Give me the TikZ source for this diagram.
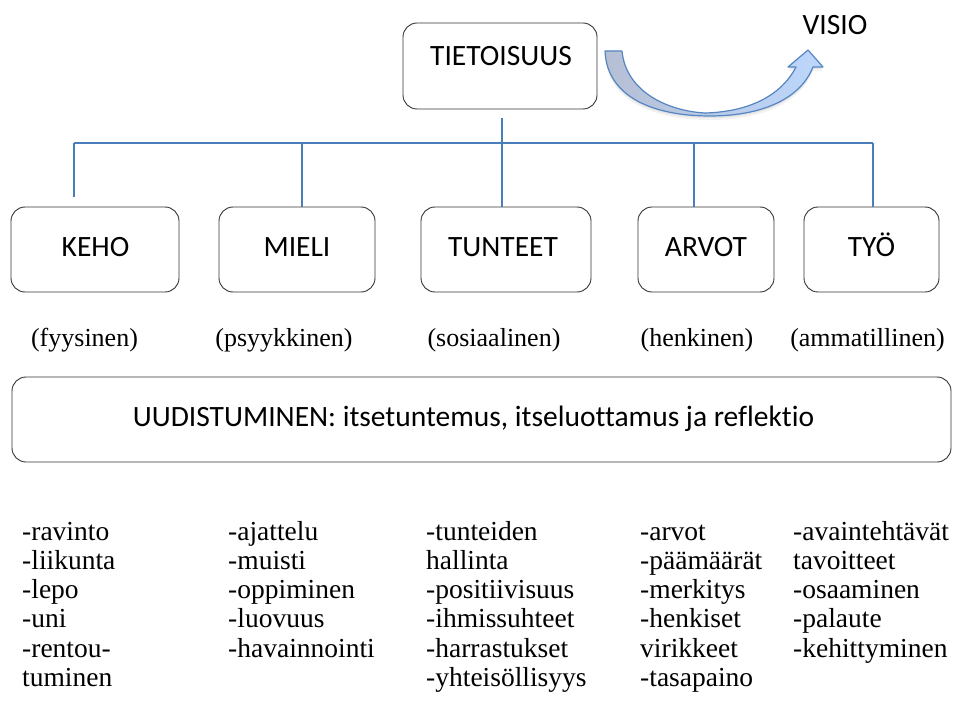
\documentclass[tikz,border=0pt]{standalone}
\usepackage{fontspec}
\setmainfont{Liberation Serif}
\newfontfamily\boxfont[Ligatures=NoCommon]{Carlito}
\definecolor{linkblue}{HTML}{4A7EBB}
\definecolor{arrowedge}{HTML}{5585C2}
\definecolor{arrowtail}{HTML}{B6BFD4}
\definecolor{arrowmid}{HTML}{B0C4E2}
\definecolor{arrowhead}{HTML}{BCD7FC}
% outline of the curved arrow from TIETOISUUS to VISIO
\newcommand\visiopath{(605,51) .. controls (607,98) and (655,116) .. (710,116)
  .. controls (760,116) and (800,100) .. (813,67)
  -- (823,67) -- (808,50) -- (788,67) -- (796,67)
  .. controls (780,98) and (745,112) .. (705,113)
  .. controls (668,111) and (626,92) .. (622,51) -- cycle}
\begin{document}
\begin{tikzpicture}[x=1pt,y=-1pt,
  box/.style={draw=black!80, line width=0.9pt, rounded corners=14pt, inner sep=0pt},
  boxtxt/.style={font=\boxfont\fontsize{29.5}{34}\selectfont, anchor=base, inner sep=0pt},
  sertxt/.style={font=\fontsize{26}{29.3}\selectfont, anchor=base, inner sep=0pt},
  listtxt/.style={font=\fontsize{27.5}{29.3}\selectfont, anchor=base west, inner sep=0pt},
  conn/.style={draw=linkblue, line width=1.6pt}]
\useasboundingbox (0,0) rectangle (979,711);

% top box and the vision arrow
\node[box, minimum width=194, minimum height=86] (tieto) at (500,66) {};
\node[boxtxt] (tietoT) at (501,66) {TIETOISUUS};
\node[boxtxt] (visio) at (835,35) {VISIO};

% soft shadow under the arrow
\fill[black, opacity=0.06, yshift=-2pt] \visiopath;
\fill[black, opacity=0.05, yshift=-4pt] \visiopath;
\path[draw=arrowedge, line width=1.2pt, line join=round,
      left color=arrowtail, middle color=arrowmid, right color=arrowhead] \visiopath;

% five area boxes
\node[box, minimum width=168, minimum height=85] (keho) at (95,249.5) {};
\node[box, minimum width=156, minimum height=85] (mieli) at (297,249.5) {};
\node[box, minimum width=170, minimum height=85] (tunteet) at (506,249.5) {};
\node[box, minimum width=136, minimum height=85] (arvot) at (706,249.5) {};
\node[box, minimum width=135, minimum height=85] (tyo) at (871.5,249.5) {};
\node[boxtxt] (kehoT) at (95.5,257) {KEHO};
\node[boxtxt] (mieliT) at (297,257) {MIELI};
\node[boxtxt] (tunteetT) at (503,257) {TUNTEET};
\node[boxtxt] (arvotT) at (706,257) {ARVOT};
\node[boxtxt] (tyoT) at (871.5,257) {TYÖ};

% connector tree
\coordinate (stem) at (502,118);
\coordinate (hL) at (74,143);
\coordinate (hR) at (873,143);
\coordinate (kehoEnd) at (74,197);
\draw[conn] (hL) -- (hR);
\draw[conn] (stem) -- (stem |- tunteet.north);
\draw[conn] (hL) -- (kehoEnd);
\draw[conn] (302,143) coordinate (mieliJ) -- (mieliJ |- mieli.north);
\draw[conn] (694,143) coordinate (arvotJ) -- (arvotJ |- arvot.north);
\draw[conn] (hR) -- (hR |- tyo.north);

% dimension labels
\node[sertxt] (l1) at (84.5,346) {(fyysinen)};
\node[sertxt] (l2) at (284,346) {(psyykkinen)};
\node[sertxt] (l3) at (494,346) {(sosiaalinen)};
\node[sertxt] (l4) at (697,346) {(henkinen)};
\node[sertxt] (l5) at (867.5,346) {(ammatillinen)};

% renewal box
\node[box, minimum width=939, minimum height=85] (uud) at (481.5,419.5) {};
\node[boxtxt] (uudT) at (473.5,426) {UUDISTUMINEN: itsetuntemus, itseluottamus ja reflektio};

% item lists
\foreach \t [count=\i] in {-ravinto,-liikunta,-lepo,-uni,-rentou-,tuminen}
  \node[listtxt] (a\i) at ({22},{540+29.3*(\i-1)}) {\t};
\foreach \t [count=\i] in {-ajattelu,-muisti,-oppiminen,-luovuus,-havainnointi}
  \node[listtxt] (b\i) at ({228},{540+29.3*(\i-1)}) {\t};
\foreach \t [count=\i] in {-tunteiden,hallinta,-positiivisuus,-ihmissuhteet,-harrastukset,-yhteisöllisyys}
  \node[listtxt] (c\i) at ({426},{540+29.3*(\i-1)}) {\t};
\foreach \t [count=\i] in {-arvot,-päämäärät,-merkitys,-henkiset,virikkeet,-tasapaino}
  \node[listtxt] (d\i) at ({640},{540+29.3*(\i-1)}) {\t};
\foreach \t [count=\i] in {-avaintehtävät,tavoitteet,-osaaminen,-palaute,-kehittyminen}
  \node[listtxt] (e\i) at ({793},{540+29.3*(\i-1)}) {\t};
\end{tikzpicture}
\end{document}
